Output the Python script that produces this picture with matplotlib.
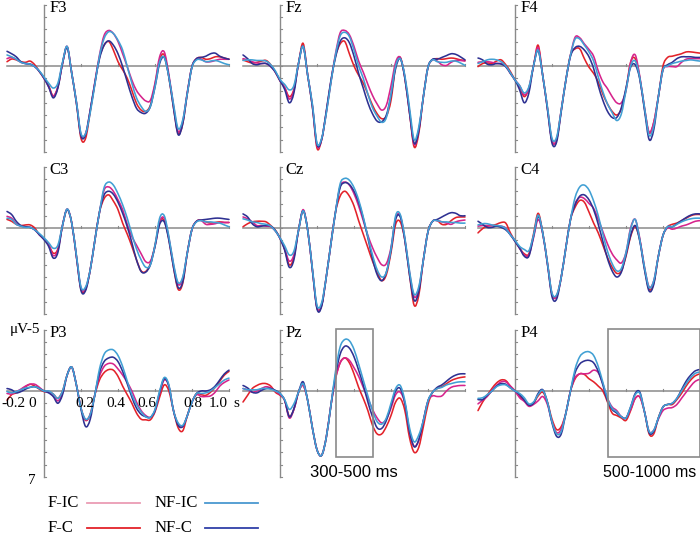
import numpy as np
import matplotlib
matplotlib.use("Agg")
import matplotlib.pyplot as plt
from matplotlib.path import Path
from matplotlib.patches import PathPatch, Rectangle

# time axis (s), sampled every 25 ms from -0.2 to 1.0
times = np.round(-0.2 + 0.025 * np.arange(49), 3)

# amplitudes in microvolts (negative drawn upward)
F3_FIC = [-0.6,-0.7,-0.55,-0.3,-0.2,-0.15,0.05,0.45, 1.0,1.7,2.45,1.7,-0.2,-1.6,0.6,2.9,5.6,5.5,3.6,1.3, -0.9,-2.5,-2.9,-2.65,-2.0,-1.0,0.05,1.15,2.0,2.5, 2.85,2.8,1.4,-0.75,-1.15,0.7,3.2,5.35,4.5,2.1, 0.05,-0.6,-0.55,-0.35,-0.35,-0.45,-0.55,-0.55,-0.55]
F3_FC = [-0.35,-0.57,-0.5,-0.35,-0.3,-0.4,-0.1,0.45, 1.0,1.6,2.45,1.7,-0.2,-1.55,0.6,3.0,5.9,5.9,3.7,1.4, -0.7,-1.7,-2.0,-1.3,-0.35,0.3,1.0,2.0,3.05,3.6, 3.7,3.2,1.5,-0.5,-0.9,0.9,3.4,5.5,4.7,2.2, 0.05,-0.6,-0.7,-0.55,-0.6,-0.75,-0.75,-0.65,-0.55]
F3_NFIC = [-0.9,-0.75,-0.55,-0.3,-0.2,-0.15,0.05,0.4, 0.9,1.4,1.8,1.4,-0.3,-1.6,0.6,2.9,5.5,5.5,3.8,1.5, -0.8,-2.25,-2.8,-2.65,-2.1,-1.3,0.05,1.4,2.6,3.3, 3.7,3.3,1.7,-0.35,-0.7,0.9,3.1,5.1,4.4,2.2, 0.1,-0.5,-0.5,-0.35,-0.4,-0.45,-0.35,-0.2,-0.1]
F3_NFC = [-1.2,-1.0,-0.75,-0.35,-0.2,-0.15,0.05,0.45, 1.0,1.7,2.6,1.8,-0.2,-1.5,0.6,3.0,5.7,5.6,3.6,1.4, -0.6,-1.7,-2.05,-1.7,-1.0,0.05,1.3,2.5,3.45,3.8, 3.85,3.3,1.7,-0.2,-0.7,0.9,3.4,5.6,4.7,2.2, 0.05,-0.6,-0.7,-0.8,-1.0,-1.05,-0.8,-0.65,-0.55]

Fz_FIC = [-0.6,-0.5,-0.35,-0.25,-0.2,-0.2,0.05,0.5, 1.2,1.75,2.7,2.0,-0.2,-1.6,0.8,3.2,6.5,6.0,3.8,1.3, -1.0,-2.7,-2.9,-2.55,-1.6,-0.4,0.5,1.5,2.4,3.1, 3.6,3.2,1.6,-0.3,-0.7,0.9,3.7,6.4,5.2,2.5, 0.1,-0.5,-0.4,-0.1,-0.05,-0.3,-0.45,-0.45,-0.4]
Fz_FC = [-0.5,-0.35,-0.25,-0.3,-0.4,-0.45,-0.1,0.5, 1.2,1.75,2.5,1.9,-0.2,-1.85,0.8,3.3,6.7,6.0,3.8,1.3, -0.8,-1.8,-2.0,-1.0,0.0,0.75,1.4,2.3,3.2,3.9, 4.3,4.1,2.8,0.05,-0.7,1.0,3.8,6.6,5.5,2.5, 0.1,-0.5,-0.6,-0.55,-0.6,-0.65,-0.6,-0.5,-0.45]
Fz_NFIC = [-0.45,-0.5,-0.5,-0.45,-0.45,-0.4,-0.1,0.4, 1.1,1.5,1.95,1.6,-0.2,-1.6,0.8,3.1,6.3,5.9,3.9,1.4, -0.9,-2.45,-2.75,-2.4,-1.3,0.0,1.0,2.3,3.4,4.1, 4.6,4.2,2.3,0.0,-0.6,0.8,3.4,6.0,5.0,2.5, 0.1,-0.5,-0.35,-0.3,-0.3,-0.4,-0.4,-0.25,-0.05]
Fz_NFC = [-0.9,-0.6,-0.2,-0.1,-0.2,-0.2,0.05,0.5, 1.2,1.9,3.0,2.2,-0.2,-1.6,0.8,3.3,6.4,6.0,3.7,1.2, -0.7,-2.0,-2.3,-1.9,-0.8,0.6,1.8,3.0,3.9,4.5, 4.55,4.0,2.4,0.2,-0.6,1.0,3.8,6.3,5.3,2.5, 0.1,-0.55,-0.55,-0.7,-0.85,-1.0,-0.95,-0.75,-0.5]

F4_FIC = [-0.3,-0.35,-0.35,-0.3,-0.2,-0.2,0.05,0.6, 1.15,1.6,2.35,1.8,0.0,-1.5,0.8,3.4,6.1,6.0,3.6,1.15, -0.9,-2.35,-2.3,-1.8,-1.35,-0.8,0.4,1.3,1.85,2.5, 3.0,3.0,2.0,-0.3,-0.9,0.9,3.4,5.4,4.6,2.5, 0.3,0.05,0.05,0.05,-0.3,-0.55,-0.6,-0.6,-0.6]
F4_FC = [0.05,-0.2,-0.25,-0.2,-0.4,-0.5,-0.1,0.45, 1.15,1.7,2.5,1.8,0.0,-1.7,0.8,3.4,6.1,6.0,3.6,1.15, -0.9,-1.4,-1.4,-0.6,0.1,0.6,1.3,2.3,3.1,3.7, 4.0,3.5,1.9,-0.3,-0.6,1.0,3.5,5.45,4.6,2.5, 0.0,-0.7,-0.8,-0.9,-1.0,-1.15,-1.15,-1.1,-1.05]
F4_NFIC = [-0.2,-0.35,-0.5,-0.55,-0.5,-0.35,0.0,0.55, 1.15,1.6,2.2,1.7,0.0,-1.3,0.8,3.3,5.9,5.8,3.6,1.15, -0.9,-2.2,-2.2,-1.7,-1.15,-0.4,0.9,2.1,3.1,3.8, 4.45,3.9,2.0,0.0,-0.4,1.0,3.4,5.65,4.9,2.5, 0.3,0.0,-0.2,-0.3,-0.4,-0.45,-0.5,-0.45,-0.4]
F4_NFC = [-0.65,-0.5,-0.15,-0.1,-0.2,-0.15,0.05,0.6, 1.15,1.95,3.0,2.2,0.0,-1.25,0.8,3.5,6.3,6.2,3.7,1.15, -0.8,-1.5,-1.6,-1.3,-0.75,0.2,1.6,2.8,3.7,4.2, 4.2,3.4,1.8,0.1,-0.1,1.1,3.6,6.0,5.2,2.5, 0.3,-0.1,-0.3,-0.6,-0.75,-0.75,-0.75,-0.7,-0.7]

C3_FIC = [-0.95,-0.8,-0.35,-0.15,-0.1,-0.05,0.15,0.55, 0.9,1.35,2.25,1.8,-0.2,-1.55,-0.4,2.3,4.9,4.9,3.4,1.0, -1.3,-3.1,-3.35,-3.0,-2.3,-1.5,-0.3,0.7,1.4,2.1, 2.75,2.7,1.5,-0.5,-0.8,0.8,3.0,4.6,4.1,2.0, 0.1,-0.55,-0.6,-0.3,-0.3,-0.35,-0.45,-0.45,-0.45]
C3_FC = [-0.7,-0.55,-0.3,-0.2,-0.25,-0.25,0.0,0.55, 0.9,1.35,2.05,1.7,-0.2,-1.5,-0.4,2.3,5.0,5.0,3.4,1.0, -1.3,-2.4,-2.7,-2.2,-1.5,-0.4,0.5,1.5,2.6,3.5, 3.55,2.9,1.4,-0.5,-0.6,0.9,3.2,5.0,4.5,2.0, 0.1,-0.55,-0.65,-0.5,-0.4,-0.45,-0.5,-0.45,-0.45]
C3_NFIC = [-0.8,-0.7,-0.3,-0.15,-0.05,-0.05,0.15,0.45, 0.8,1.2,1.65,1.4,-0.2,-1.55,-0.4,2.2,4.8,4.8,3.4,1.0, -1.3,-3.3,-3.75,-3.5,-2.8,-1.9,-0.8,0.5,1.7,2.6, 3.2,3.0,1.4,-0.8,-1.0,0.7,2.9,4.45,4.0,2.0, 0.1,-0.5,-0.6,-0.5,-0.5,-0.45,-0.4,-0.25,-0.1]
C3_NFC = [-1.35,-1.1,-0.55,-0.2,-0.1,-0.05,0.15,0.55, 0.95,1.5,2.45,2.0,-0.2,-1.5,-0.4,2.3,5.1,5.1,3.4,1.0, -1.3,-2.7,-3.0,-2.75,-2.1,-1.2,-0.1,1.2,2.6,3.55, 3.6,3.0,1.5,-0.3,-0.5,1.0,3.2,4.85,4.4,2.0, 0.1,-0.55,-0.65,-0.7,-0.75,-0.8,-0.8,-0.75,-0.7]

Cz_FIC = [-0.9,-0.75,-0.5,-0.2,-0.2,-0.15,-0.1,0.25, 0.85,1.7,2.7,2.2,0.2,-1.5,0.2,3.4,6.5,6.3,4.0,1.3, -1.3,-3.4,-3.75,-3.5,-2.8,-1.8,-0.6,0.6,1.6,2.4, 3.0,2.9,1.6,-0.8,-1.0,0.9,3.6,5.6,5.0,2.6, 0.3,-0.55,-0.6,-0.5,-0.4,-0.3,-0.5,-0.6,-0.65]
Cz_FC = [-0.1,-0.35,-0.5,-0.55,-0.55,-0.5,-0.2,0.2, 0.8,1.7,3.0,2.4,0.2,-1.4,0.2,3.4,6.5,6.3,4.0,1.3, -1.3,-2.6,-3.0,-2.6,-1.8,-0.6,0.5,1.6,2.7,3.6, 4.3,3.8,2.0,-0.3,-0.5,1.0,3.8,6.3,5.5,2.6, 0.3,-0.55,-0.6,-0.3,-0.3,-0.6,-0.85,-0.9,-0.9]
Cz_NFIC = [-0.75,-0.65,-0.5,-0.45,-0.35,-0.3,-0.15,0.25, 0.8,1.45,2.2,1.9,0.2,-1.4,0.2,3.3,6.3,6.1,4.0,1.3, -1.3,-3.6,-4.05,-3.9,-3.3,-2.3,-0.9,0.7,2.2,3.4, 4.0,3.6,1.7,-1.0,-1.1,0.8,3.5,5.4,4.8,2.6, 0.3,-0.55,-0.6,-0.5,-0.5,-0.45,-0.45,-0.4,-0.4]
Cz_NFC = [-1.15,-0.9,-0.35,-0.1,-0.15,-0.2,-0.15,0.2, 0.85,1.8,3.2,2.6,0.2,-1.4,0.2,3.4,6.6,6.4,4.0,1.3, -1.3,-3.3,-3.7,-3.55,-3.0,-2.1,-0.8,0.8,2.5,3.8, 4.3,3.6,1.8,-0.7,-0.9,1.0,3.8,5.9,5.2,2.6, 0.3,-0.55,-0.7,-0.9,-1.1,-1.25,-1.2,-1.0,-1.0]

C4_FIC = [-0.15,-0.2,-0.2,-0.2,-0.15,-0.15,0.0,0.55, 1.05,1.65,2.2,2.2,0.8,-0.7,0.5,2.9,5.4,5.6,4.0,1.6, -0.7,-2.0,-2.5,-2.4,-2.0,-1.6,-0.7,0.3,1.3,2.1, 2.6,2.85,2.0,0.0,-0.7,0.9,3.2,4.8,4.3,2.3, 0.6,0.0,0.1,0.0,-0.15,-0.25,-0.4,-0.55,-0.6]
C4_FC = [0.4,0.05,-0.15,-0.2,-0.3,-0.45,-0.4,0.4, 1.05,1.65,2.1,2.1,0.5,-1.2,0.4,2.8,5.4,5.5,4.0,1.6, -0.7,-1.7,-2.25,-2.1,-1.3,-0.4,0.4,1.4,2.4,3.2, 3.7,3.5,2.3,0.7,-0.1,1.0,3.3,5.0,4.5,2.3, 0.6,-0.1,-0.3,-0.4,-0.6,-0.8,-1.0,-1.1,-1.1]
C4_NFIC = [-0.25,-0.35,-0.35,-0.25,-0.2,-0.15,0.05,0.55, 1.0,1.5,1.75,1.85,0.6,-1.05,0.4,2.8,5.3,5.45,4.0,1.6, -0.7,-2.5,-3.35,-3.5,-3.1,-2.2,-1.0,0.5,1.9,2.9, 3.5,3.3,2.0,0.1,-0.7,1.0,3.2,4.85,4.3,2.3, 0.6,-0.1,-0.1,-0.3,-0.5,-0.65,-0.75,-0.8,-0.8]
C4_NFC = [-0.55,-0.3,-0.05,-0.05,-0.15,-0.05,0.15,0.55, 1.1,1.65,2.3,2.3,0.7,-0.95,0.4,2.9,5.6,5.8,4.0,1.6, -0.7,-1.9,-2.6,-2.7,-2.3,-1.5,-0.3,1.1,2.5,3.5, 4.0,3.6,2.2,0.6,-0.2,1.1,3.4,5.15,4.6,2.3, 0.6,-0.1,-0.1,-0.35,-0.6,-0.85,-1.05,-1.15,-1.15]

P3_FIC = [0.2,0.25,0.05,-0.15,-0.4,-0.55,-0.55,-0.3, 0.0,0.1,0.4,0.8,0.2,-1.3,-1.95,-0.5,1.4,2.35,1.9,0.3, -1.2,-2.0,-2.25,-2.2,-1.8,-1.3,-0.7,0.0,0.9,1.6, 2.0,2.15,1.6,0.2,-0.9,-0.4,1.6,2.7,2.9,2.0, 0.9,0.3,0.45,0.45,0.4,0.1,-0.4,-0.7,-0.9]
P3_FC = [0.75,0.3,0.15,-0.1,-0.35,-0.55,-0.4,-0.15, 0.05,0.05,0.25,0.6,0.0,-1.3,-1.95,-0.5,1.4,2.4,1.9,0.3, -0.9,-1.5,-1.75,-1.7,-1.2,-0.4,0.3,1.0,1.8,2.3, 2.35,2.35,1.7,0.5,-0.5,0.0,1.6,3.0,3.25,2.0, 0.9,0.2,0.3,0.35,0.1,-0.3,-0.8,-1.3,-1.6]
P3_NFIC = [0.05,0.15,0.05,-0.1,-0.25,-0.3,-0.35,-0.2, 0.0,0.0,0.25,0.6,0.0,-1.3,-1.95,-0.5,1.4,2.3,1.9,0.3, -1.8,-3.0,-3.35,-3.35,-2.9,-2.0,-0.8,0.3,1.1,1.7, 2.1,2.15,1.5,0.0,-1.1,-0.5,1.6,2.6,2.8,2.0, 0.9,0.2,0.2,0.15,0.0,-0.3,-0.6,-0.9,-1.05]
P3_NFC = [-0.2,-0.1,0.15,0.05,-0.15,-0.3,-0.35,-0.2, 0.0,0.15,0.45,1.0,0.3,-1.3,-1.95,-0.5,1.5,2.9,2.3,0.3, -1.5,-2.4,-2.7,-2.75,-2.4,-1.6,-0.6,0.5,1.4,1.9, 2.1,2.15,1.6,0.1,-1.0,-0.4,1.6,2.8,2.9,2.0, 0.9,0.2,0.0,0.0,-0.1,-0.4,-0.9,-1.4,-1.7]

Pz_FIC = [-0.2,-0.1,0.1,0.0,-0.2,-0.35,-0.25,0.0, 0.3,0.75,2.2,1.5,0.1,-0.45,0.8,3.0,4.8,5.25,3.8,1.2, -1.0,-2.3,-2.7,-2.5,-1.9,-1.2,-0.3,0.6,1.5,2.2, 2.6,2.3,1.4,0.3,0.1,1.0,3.3,4.5,4.0,2.4, 0.8,0.4,0.45,0.4,0.0,-0.3,-0.4,-0.45,-0.45]
Pz_FC = [0.9,0.35,-0.2,-0.45,-0.6,-0.6,-0.4,0.1, 0.35,0.75,2.05,1.5,0.1,-0.45,0.8,3.0,4.8,5.25,3.8,1.2, -1.0,-2.3,-2.7,-2.3,-1.4,-0.3,0.6,1.6,2.8,3.5, 3.5,2.9,2.0,0.9,0.6,1.6,3.8,5.0,4.6,2.9, 1.1,0.1,-0.2,-0.35,-0.6,-0.85,-1.0,-1.1,-1.15]
Pz_NFIC = [-0.2,-0.1,-0.1,-0.1,-0.2,-0.2,-0.15,0.0, 0.2,0.7,1.5,1.05,0.1,-0.6,0.8,3.0,4.8,5.25,3.8,1.2, -1.6,-3.6,-4.2,-4.1,-3.4,-2.2,-0.9,0.4,1.6,2.5, 2.7,2.2,1.0,-0.2,-0.45,0.8,3.0,4.15,3.6,2.4, 0.8,0.1,-0.2,-0.3,-0.5,-0.6,-0.7,-0.75,-0.75]
Pz_NFC = [-0.45,-0.25,0.1,0.15,-0.05,-0.2,-0.2,-0.05, 0.2,0.75,2.1,1.45,0.1,-0.75,0.8,3.0,4.8,5.25,3.8,1.2, -1.3,-3.0,-3.65,-3.5,-2.8,-1.7,-0.5,0.9,2.1,3.0, 3.05,2.4,1.2,0.0,-0.2,1.0,3.3,4.55,4.0,2.4, 0.8,0.1,-0.3,-0.5,-0.8,-1.1,-1.3,-1.4,-1.4]

P4_FIC = [1.05,0.75,0.45,-0.05,-0.45,-0.75,-0.75,-0.4, 0.0,0.55,0.85,1.25,1.1,0.8,0.45,1.1,2.5,3.4,3.1,1.8, 0.0,-1.1,-1.4,-1.4,-1.45,-1.7,-1.5,-0.6,0.6,1.3, 1.6,2.1,2.2,1.5,0.6,0.5,1.7,3.3,3.2,2.3, 1.6,1.4,1.35,1.1,0.6,0.1,-0.4,-0.8,-0.95]
P4_FC = [1.6,0.9,0.35,-0.2,-0.65,-0.9,-0.85,-0.4, 0.0,0.45,0.75,1.15,1.0,0.4,0.1,0.9,2.3,3.15,2.9,1.8, 0.0,-1.0,-1.4,-1.35,-1.0,-0.75,-0.4,0.0,0.9,1.8, 2.0,2.2,2.4,1.6,0.6,0.5,1.7,3.5,3.5,2.2, 1.3,1.1,1.1,0.7,0.2,-0.4,-0.9,-1.25,-1.4]
P4_NFIC = [0.6,0.55,0.3,0.0,-0.35,-0.5,-0.5,-0.25, 0.0,0.2,0.55,1.05,0.9,0.3,-0.05,0.9,2.5,3.5,3.3,1.8, 0.0,-1.8,-2.8,-3.15,-3.2,-2.9,-2.0,-0.7,0.6,1.4, 1.7,2.1,2.2,1.3,0.3,0.2,1.7,3.3,3.2,2.2, 1.3,1.1,1.0,0.6,0.0,-0.6,-1.1,-1.45,-1.55]
P4_NFC = [0.7,0.7,0.35,0.0,-0.4,-0.6,-0.55,-0.25, 0.0,0.3,0.75,1.15,1.0,0.2,-0.1,0.9,2.6,3.7,3.5,1.8, 0.0,-1.5,-2.2,-2.45,-2.5,-2.3,-1.6,-0.5,0.8,1.5, 1.8,2.1,2.2,1.3,0.2,0.1,1.7,3.4,3.3,2.2, 1.3,1.1,1.0,0.6,-0.1,-0.8,-1.3,-1.65,-1.75]

panel_names = ["F3", "Fz", "F4", "C3", "Cz", "C4", "P3", "Pz", "P4"]
panel_data = [
    (F3_FIC, F3_FC, F3_NFIC, F3_NFC), (Fz_FIC, Fz_FC, Fz_NFIC, Fz_NFC), (F4_FIC, F4_FC, F4_NFIC, F4_NFC),
    (C3_FIC, C3_FC, C3_NFIC, C3_NFC), (Cz_FIC, Cz_FC, Cz_NFIC, Cz_NFC), (C4_FIC, C4_FC, C4_NFIC, C4_NFC),
    (P3_FIC, P3_FC, P3_NFIC, P3_NFC), (Pz_FIC, Pz_FC, Pz_NFIC, Pz_NFC), (P4_FIC, P4_FC, P4_NFIC, P4_NFC),
]
series_names = ["F-IC", "F-C", "NF-IC", "NF-C"]
series_colors = ["#d6248c", "#e3222a", "#41a0d4", "#2e3192"]
draw_order = [1, 0, 3, 2]
xtick_labels = ["-0.2", "0", "0.2", "0.4", "0.6", "0.8", "1.0"]
xtick_label_pos = [-0.2, -0.065, 0.222, 0.39, 0.557, 0.805, 0.94]
windows = {"Pz": (0.3, 0.5, "300-500 ms"), "P4": (0.5, 1.0, "500-1000 ms")}

for d in panel_data:
    for s in d:
        assert len(s) == len(times), len(s)

SERIF = ["Liberation Serif", "DejaVu Serif"]
SANS = ["Liberation Sans", "DejaVu Sans"]
GRAY = "#8a8a8a"

W, H = 700, 537
fig = plt.figure(figsize=(W / 100, H / 100), dpi=100)
fig.patch.set_facecolor("white")


def smooth(ax, x, y, color, lw):
    x = np.asarray(x, float)
    y = np.asarray(y, float)
    n = len(x)
    verts = [(x[0], y[0])]
    codes = [Path.MOVETO]
    for i in range(n - 1):
        i0 = max(i - 1, 0)
        i3 = min(i + 2, n - 1)
        c1 = (x[i] + (x[i + 1] - x[i0]) / 6, y[i] + (y[i + 1] - y[i0]) / 6)
        c2 = (x[i + 1] - (x[i3] - x[i]) / 6, y[i + 1] - (y[i3] - y[i]) / 6)
        verts += [c1, c2, (x[i + 1], y[i + 1])]
        codes += [Path.CURVE4] * 3
    ax.add_patch(PathPatch(Path(verts, codes), fill=False, edgecolor=color,
                           lw=lw, clip_on=False, zorder=3,
                           capstyle="round", joinstyle="round"))


col_left = [7, 243, 478]
row_top = [4.75, 166.75, 329.75]
pw, ph = 222, 147

for k, name in enumerate(panel_names):
    r, c = divmod(k, 3)
    ax = fig.add_axes([col_left[c] / W, 1 - (row_top[r] + ph) / H, pw / W, ph / H])
    ax.set_xlim(-0.2, 1.0)
    ax.set_ylim(7, -5)
    ax.axis("off")
    ax.plot([-0.2, 1.0], [0, 0], color=GRAY, lw=1.1, zorder=1, clip_on=False)
    ax.plot([0, 0], [-5, 7], color=GRAY, lw=1.0, zorder=1, clip_on=False)
    for v in range(-5, 8):
        ax.plot([0, 0.012], [v, v], color=GRAY, lw=0.8, zorder=1, clip_on=False)
    for t in [0.2, 0.4, 0.6, 0.8, 1.0]:
        ax.plot([t, t], [0, -0.18], color=GRAY, lw=0.8, zorder=1, clip_on=False)
    for si in draw_order:
        smooth(ax, times, panel_data[k][si], series_colors[si], 1.15)
    ax.text(0.03, -4.75, name, family=SERIF, fontsize=12, ha="left", va="center")
    if name == "P3":
        for lab, pos in zip(xtick_labels, xtick_label_pos):
            if lab == "-0.2":
                ax.text(-0.23, 1.0, lab, family=SERIF, fontsize=11, ha="left", va="center")
            else:
                ax.text(pos, 1.0, lab, family=SERIF, fontsize=11, ha="center", va="center")
        ax.text(1.025, 1.0, "s", family=SERIF, fontsize=11, ha="left", va="center")
        ax.text(-0.02, -5.0, "μV-5", family=SERIF, fontsize=11, ha="right", va="center")
        ax.text(-0.045, 7.3, "7", family=SERIF, fontsize=11, ha="right", va="center")
    if name in windows:
        t0, t1, lab = windows[name]
        ax.add_patch(Rectangle((t0, -5.1), t1 - t0, 10.45, fill=False,
                               edgecolor=GRAY, lw=1.2, clip_on=False, zorder=4))
        if name == "P4":
            ax.text(0.982, 6.65, lab, family=SANS, fontsize=11.5,
                    ha="right", va="center")
        else:
            ax.text((t0 + t1) / 2, 6.65, lab, family=SANS, fontsize=12,
                    ha="center", va="center")

# legend
lg = fig.add_axes([0, 0, 1, 1])
lg.set_xlim(0, W)
lg.set_ylim(H, 0)
lg.axis("off")
legend_colors = ["#eb9cb4", "#e3222a", "#4a98d0", "#3040a8"]
legend_pos = [(48, 87, 503), (48, 87, 528), (155, 205, 503), (155, 205, 528)]
for (tx, lx, ly), nm, col in zip(legend_pos, series_names, legend_colors):
    lg.text(tx, ly, nm, family=SERIF, fontsize=12, ha="left", va="center")
    lg.plot([lx, lx + 53], [ly, ly], color=col, lw=1.3)

fig.savefig("out.png", dpi=100)
